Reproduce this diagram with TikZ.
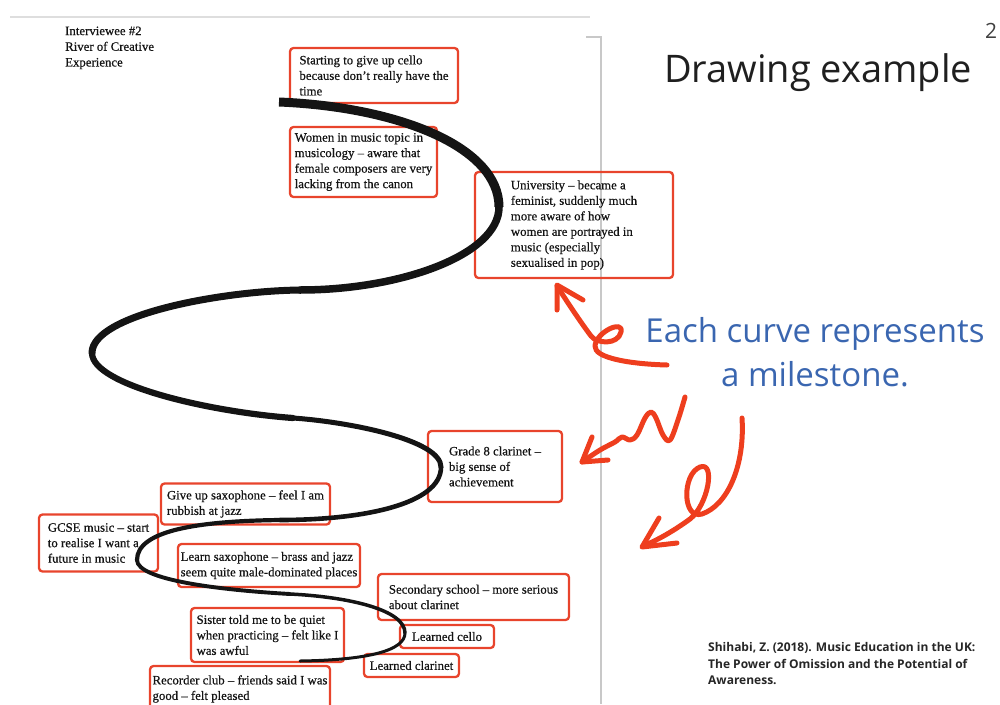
\documentclass[tikz,border=0pt]{standalone}
\usepackage{fontspec}
\setmainfont{Liberation Serif}
\newfontfamily\sheetfont{Liberation Serif}[FakeBold=0.6]
\newfontfamily\slidefont{Open Sans}
\definecolor{boxred}{RGB}{232,68,44}
\definecolor{inkred}{RGB}{238,62,30}
\definecolor{noteblue}{RGB}{58,102,176}
\definecolor{pagegray}{RGB}{200,200,200}
\definecolor{pageedge}{RGB}{222,222,222}
\begin{document}
\begin{tikzpicture}[x=1pt,y=-1pt,
  milestone/.style={draw=boxred, line width=2.3pt, rounded corners=3.5pt,
    inner sep=0pt, align=left, text=black!92,
    font=\sheetfont\fontsize{12.8}{15.5}\selectfont},
  river/.style={draw=black!92, line cap=round},
  ink/.style={draw=inkred, line width=5pt, line cap=round, line join=round},
  slide/.style={inner sep=0pt, text=black!88}
]
\useasboundingbox (0,0) rectangle (1000,704);
\clip (0,0) rectangle (1000,704);

% page edges of the scanned sheet
\draw[pageedge, line width=1.5pt] (10,17) -- (590,17);
\draw[pagegray, line width=1.5pt] (586,37) -- (601,37) -- (601,704);

% heading of the sheet
\node[slide, anchor=north west, align=left, text=black!92,
  font=\sheetfont\fontsize{12.8}{15.7}\selectfont] (sheethead) at (65,26.4)
  {Interviewee \#2\\River of Creative\\Experience};

% milestones
\node[milestone, minimum width=168pt, minimum height=55pt] (cello) at (374,75.5)
  {Starting to give up cello\\because don’t really have the\\time};
\node[milestone, minimum width=147pt, minimum height=70pt] (women) at (363.5,162)
  {Women in music topic in\\musicology – aware that\\female composers are very\\lacking from the canon};
\node[milestone, minimum width=198pt, minimum height=106pt] (uni) at (574,225)
  {University – became a\\feminist, suddenly much\\more aware of how\\women are portrayed in\\music (especially\\sexualised in pop)};
\node[milestone, minimum width=134pt, minimum height=71pt] (grade) at (495,466.5)
  {Grade 8 clarinet –\\big sense of\\achievement};
\node[milestone, minimum width=169pt, minimum height=41pt] (giveup) at (245.5,504)
  {Give up saxophone – feel I am\\rubbish at jazz};
\node[milestone, minimum width=119pt, minimum height=57pt] (gcse) at (98.5,543)
  {GCSE music – start\\to realise I want a\\future in music};
\node[milestone, minimum width=182pt, minimum height=43pt] (learnsax) at (269,565.5)
  {Learn saxophone – brass and jazz\\seem quite male-dominated places};
\node[milestone, minimum width=191pt, minimum height=46pt] (secondary) at (473.5,597)
  {Secondary school – more serious\\about clarinet};
\node[milestone, minimum width=153pt, minimum height=54pt] (sister) at (267.5,635)
  {Sister told me to be quiet\\when practicing – felt like I\\was awful};
\node[milestone, minimum width=94pt, minimum height=23pt] (lcello) at (447,636.5)
  {Learned cello};
\node[milestone, minimum width=95pt, minimum height=23pt] (lclar) at (411.5,665.5)
  {Learned clarinet};
\node[milestone, minimum width=180pt, minimum height=46pt] (recorder) at (240,689)
  {Recorder club – friends said I was\\good – felt pleased};

% the river: one stroke that thins out towards its mouth
\coordinate (r0) at (279,102);
\coordinate (r1) at (499,207);
\coordinate (r2) at (300,290);
\coordinate (r3) at (92,353);
\coordinate (r4) at (293,418);
\coordinate (r5) at (441,467);
\coordinate (r6) at (280,520);
\coordinate (r7) at (137,560);
\coordinate (r8) at (290,594);
\coordinate (r9) at (405,633);
\coordinate (r10) at (300,661);
\draw[river, line cap=butt, line width=9pt] (r0) .. controls (399,107) and (499,147) .. (r1);
\draw[river, line width=7.5pt] (r1) .. controls (499,255) and (400,290) .. (r2);
\draw[river, line width=7pt] (r2) .. controls (220,291) and (92,315) .. (r3);
\draw[river, line width=6.2pt] (r3) .. controls (92,385) and (210,412) .. (r4);
\draw[river, line width=5pt] (r4) .. controls (350,422) and (441,440) .. (r5);
\draw[river, line width=4.6pt] (r5) .. controls (441,505) and (360,520) .. (r6);
\draw[river, line width=4.2pt] (r6) .. controls (200,521) and (137,530) .. (r7);
\draw[river, line width=3.9pt] (r7) .. controls (137,580) and (220,590) .. (r8);
\draw[river, line width=3.5pt] (r8) .. controls (350,597) and (405,610) .. (r9);
\draw[river, line width=3pt] (r9) .. controls (405,650) and (370,660) .. (r10);

% slide text
\node[slide, font=\slidefont\fontsize{21}{21}\selectfont, text=black!75, anchor=base] (pagenum) at (991,38) {2};
\node[slide, font=\slidefont\fontsize{38}{38}\selectfont, anchor=base] (title) at (818,82) {Drawing example};
\node[slide, font=\slidefont\fontsize{33}{44}\selectfont, text=noteblue, anchor=base] (note1) at (815,342) {Each curve represents};
\node[slide, font=\slidefont\fontsize{33}{44}\selectfont, text=noteblue, anchor=base] (note2) at (815,386) {a milestone.};
\node[slide, anchor=north west, align=left, font=\slidefont\bfseries\fontsize{12}{16.5}\selectfont, text=black!85] (cite) at (708,642.5)
  {Shihabi, Z. (2018). Music Education in the UK:\\The Power of Omission and the Potential of\\Awareness.};

% hand-drawn arrows
\draw[ink] (667,365) .. controls (630,364) and (594,358) .. (595,346)
  .. controls (596,332) and (624,319) .. (621,332)
  .. controls (618,345) and (597,344) .. (591,336)
  .. controls (579,320) and (566,300) .. (557,286);
\draw[ink] (583,300) -- (557,285) -- (557,310);

\draw[ink] plot[smooth, tension=0.6] coordinates {(685,397) (678,420) (670,440) (663,435)
  (656,418) (651,412) (645,418) (637,435) (630,440) (622,437) (615,442) (600,450) (582,462)};
\draw[ink] (592,437) -- (582,462) -- (608,460);

\draw[ink] (742,418) .. controls (745,465) and (728,505) .. (702,514)
  .. controls (682,520) and (682,474) .. (700,467)
  .. controls (716,461) and (708,505) .. (690,519)
  .. controls (675,530) and (658,540) .. (643,546);
\draw[ink] (659,518) -- (642,547) -- (677,543);
\end{tikzpicture}
\end{document}
